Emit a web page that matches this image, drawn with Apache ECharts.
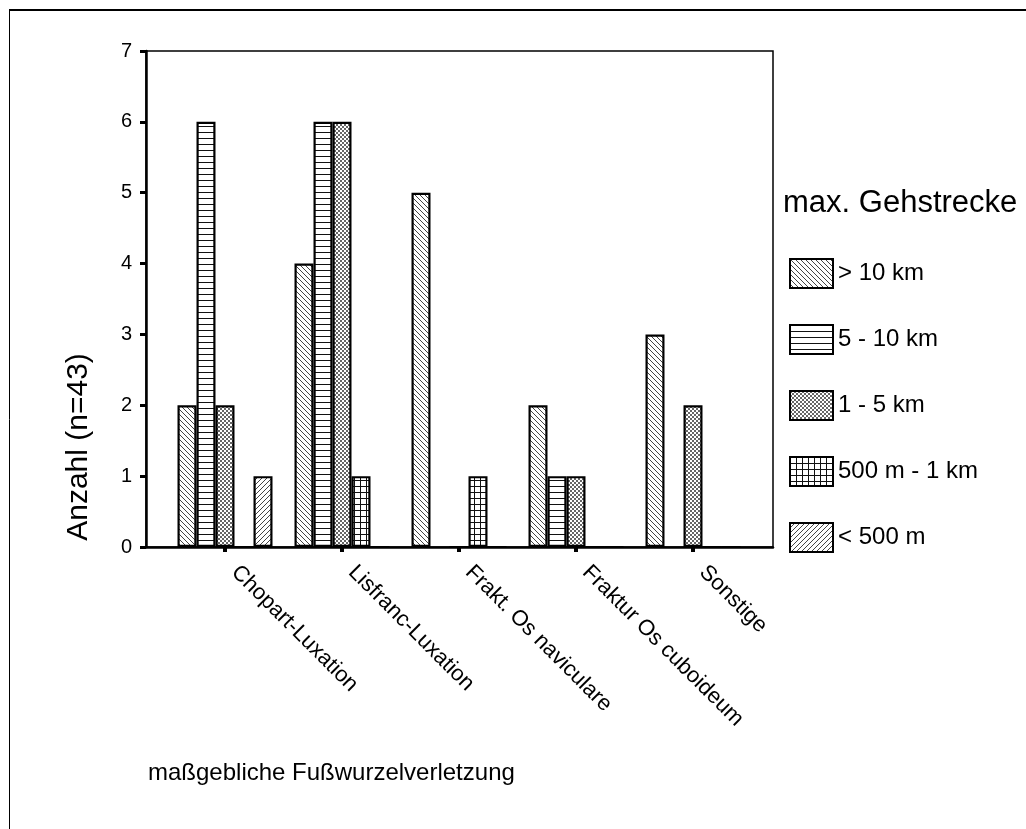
<!DOCTYPE html>
<html>
<head>
<meta charset="utf-8">
<script src="https://cdn.jsdelivr.net/npm/echarts@6/dist/echarts.min.js"></script>
<style>
html,body{margin:0;padding:0;background:#fff;}
#chart{width:1026px;height:829px;}
</style>
</head>
<body>
<div id="chart"></div>
<script>
// ---- data ----
var categories = ['Chopart-Luxation', 'Lisfranc-Luxation', 'Frakt. Os naviculare', 'Fraktur Os cuboideum', 'Sonstige'];
var seriesNames = ['> 10 km', '5 - 10 km', '1 - 5 km', '500 m - 1 km', '< 500 m'];
var over10km   = [2, 4, 5, 2, 3];
var km5to10    = [6, 6, null, 1, null];
var km1to5     = [2, 6, 0, 1, 2];
var m500to1km  = [0, 1, 1, 0, 0];
var under500m  = [1, 0, 0, 0, 0];
var yTicks = [0, 1, 2, 3, 4, 5, 6, 7];
var yTitle = 'Anzahl (n=43)';
var xTitle = 'maßgebliche Fußwurzelverletzung';
var legendTitle = 'max. Gehstrecke';

// ---- patterns ----
function makePattern(size, draw) {
  var c = document.createElement('canvas');
  c.width = size; c.height = size;
  var ctx = c.getContext('2d');
  ctx.fillStyle = '#fff';
  ctx.fillRect(0, 0, size, size);
  draw(ctx, size);
  return { image: c, repeat: 'repeat' };
}
var patBack = makePattern(5, function (ctx, s) {   // "\" lines
  ctx.fillStyle = '#444';
  for (var i = 0; i < s; i++) ctx.fillRect(i, i, 1, 1);
});
var patHoriz = makePattern(6, function (ctx, s) {  // horizontal lines
  ctx.fillStyle = '#111';
  ctx.fillRect(0, 0, s, 1);
});
var patChecker = makePattern(4, function (ctx, s) { // checker
  ctx.fillStyle = '#666';
  ctx.fillRect(0, 0, 2, 2);
  ctx.fillRect(2, 2, 2, 2);
});
var patGrid = makePattern(6, function (ctx, s) {   // square grid
  ctx.fillStyle = '#111';
  ctx.fillRect(0, 0, s, 1);
  ctx.fillRect(0, 0, 1, s);
});
var patFwd = makePattern(5, function (ctx, s) {    // "/" lines
  ctx.fillStyle = '#444';
  for (var i = 0; i < s; i++) ctx.fillRect(s - 1 - i, i, 1, 1);
});

var values = [over10km, km5to10, km1to5, m500to1km, under500m];
var patterns = [patBack, patHoriz, patChecker, patGrid, patFwd];
var FONT = 'Liberation Sans, Arial, Helvetica, sans-serif';

var series = seriesNames.map(function (name, i) {
  return {
    name: name,
    type: 'bar',
    xAxisIndex: 1,
    yAxisIndex: 1,
    data: values[i],
    barWidth: 19,
    barGap: '0%',
    itemStyle: { color: patterns[i], borderColor: '#000', borderWidth: 2.2 },
    emphasis: { disabled: true }
  };
});

var chart = echarts.init(document.getElementById('chart'), null, { renderer: 'canvas' });
chart.setOption({
  animation: false,
  backgroundColor: '#fff',
  textStyle: { fontFamily: FONT },
  grid: [
    { left: 146, top: 51, width: 627, height: 496, show: true, borderColor: '#000', borderWidth: 1.5, backgroundColor: 'transparent' },
    { left: 166.5, top: 51, width: 585, height: 496 }
  ],
  xAxis: [
    { gridIndex: 0, type: 'category', data: [''], axisLine: { lineStyle: { color: '#000', width: 2.5 } },
      axisTick: { show: false }, axisLabel: { show: false }, splitLine: { show: false } },
    { gridIndex: 1, type: 'category', data: categories, axisLine: { show: false },
      axisTick: { show: true, alignWithLabel: true, length: 5, lineStyle: { color: '#000', width: 4 } },
      axisLabel: { rotate: -45, fontSize: 22, color: '#000', margin: 12, padding: [0, 0, 0, 14], fontFamily: FONT, interval: 0 },
      splitLine: { show: false } }
  ],
  yAxis: [
    { gridIndex: 0, type: 'value', min: yTicks[0], max: yTicks[yTicks.length - 1], interval: 1,
      axisLine: { show: true, lineStyle: { color: '#000', width: 2.5 } },
      axisTick: { show: true, length: 6, lineStyle: { color: '#000', width: 3 } },
      axisLabel: { fontSize: 20, color: '#000', margin: 14, fontFamily: FONT },
      splitLine: { show: false } },
    { gridIndex: 1, type: 'value', min: yTicks[0], max: yTicks[yTicks.length - 1], interval: 1,
      show: false, splitLine: { show: false } }
  ],
  legend: {
    orient: 'vertical',
    left: 789,
    top: 258,
    padding: 0,
    itemWidth: 43,
    itemHeight: 29,
    itemGap: 35,
    icon: 'rect',
    data: seriesNames,
    textStyle: { fontSize: 24, color: '#000', fontFamily: FONT },
    selectedMode: false
  },
  graphic: [
    { type: 'line', shape: { x1: 9, y1: 10, x2: 1030, y2: 10 }, style: { stroke: '#000', lineWidth: 2 }, silent: true },
    { type: 'line', shape: { x1: 9.5, y1: 9, x2: 9.5, y2: 835 }, style: { stroke: '#000', lineWidth: 1 }, silent: true },
    { type: 'text', x: 79, y: 447, rotation: Math.PI / 2,
      style: { text: yTitle, font: '30px ' + FONT, fill: '#000', textAlign: 'center', textVerticalAlign: 'middle' }, silent: true },
    { type: 'text', x: 148, y: 773,
      style: { text: xTitle, font: '24px ' + FONT, fill: '#000', textAlign: 'left', textVerticalAlign: 'middle' }, silent: true },
    { type: 'text', x: 783, y: 203,
      style: { text: legendTitle, font: '31px ' + FONT, fill: '#000', textAlign: 'left', textVerticalAlign: 'middle' }, silent: true }
  ],
  series: series
});
</script>
</body>
</html>
